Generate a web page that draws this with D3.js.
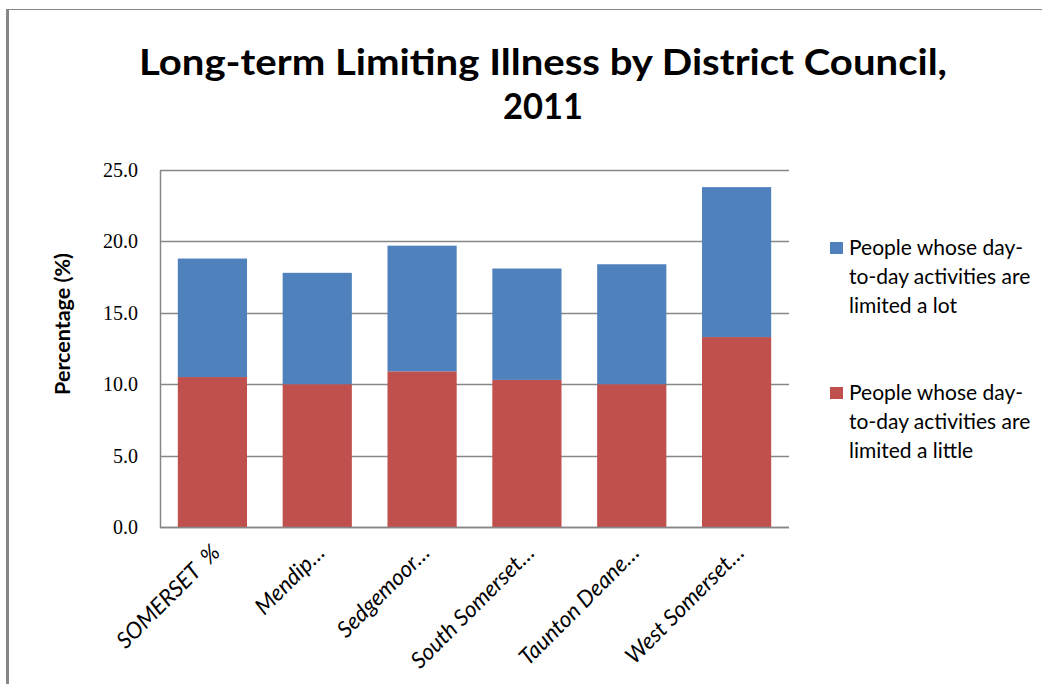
<!DOCTYPE html>
<html>
<head>
<meta charset="utf-8">
<script src="https://cdn.jsdelivr.net/npm/d3@7"></script>
<style>
  html, body { margin: 0; padding: 0; background: #fff; }
  svg { display: block; }
  text { font-family: Lato, "Open Sans", "Liberation Sans", sans-serif; fill: #000; white-space: pre; }
</style>
</head>
<body>
<svg id="chart" width="1042" height="684"></svg>
<script>
// District councils shown on the x axis
const categories = ["SOMERSET  %", "Mendip…", "Sedgemoor…", "South Somerset…", "Taunton Deane…", "West Somerset…"];
// Percentage of residents limited a little (bottom segment)
const limitedLittle = [10.5, 10.0, 10.9, 10.3, 10.0, 13.3];
// Percentage of residents limited a lot (stacked on top)
const limitedLot = [8.3, 7.8, 8.8, 7.8, 8.4, 10.5];
const yTicks = [0, 5, 10, 15, 20, 25];
const seriesNames = ["People whose day-to-day activities are limited a lot",
                     "People whose day-to-day activities are limited a little"];
const legendLines = [["People whose day-", "to-day activities are", "limited a lot"],
                     ["People whose day-", "to-day activities are", "limited a little"]];

const colors = { lot: "#4F81BD", little: "#C0504D" };
const gridColor = "#878787";

const svg = d3.select("#chart");

// chart frame (top and left edges)
svg.append("line").attr("x1", 6).attr("x2", 1042).attr("y1", 9.5).attr("y2", 9.5)
  .attr("stroke", gridColor).attr("stroke-width", 1);
svg.append("line").attr("x1", 7.5).attr("x2", 7.5).attr("y1", 9).attr("y2", 684)
  .attr("stroke", gridColor).attr("stroke-width", 3);

const plot = { left: 160, right: 789, top: 170, bottom: 527 };

const x = d3.scaleBand().domain(categories)
  .range([plot.left, plot.right]).paddingInner(0.34).paddingOuter(0.17);
const y = d3.scaleLinear().domain([0, 25]).range([plot.bottom, plot.top]);

// gridlines
svg.append("g").selectAll("line").data(yTicks).join("line")
  .attr("x1", plot.left).attr("x2", plot.right)
  .attr("y1", d => Math.round(y(d)) + 0.5).attr("y2", d => Math.round(y(d)) + 0.5)
  .attr("stroke", gridColor).attr("stroke-width", 1.5);

// stacked bars
const rows = categories.map((c, i) => ({ cat: c, little: limitedLittle[i], lot: limitedLot[i] }));
const stack = d3.stack().keys(["little", "lot"])(rows);
svg.append("g").selectAll("g").data(stack).join("g")
  .attr("fill", d => colors[d.key])
  .selectAll("rect").data(d => d).join("rect")
  .attr("x", d => x(d.data.cat))
  .attr("width", x.bandwidth())
  .attr("y", d => y(d[1]))
  .attr("height", d => y(d[0]) - y(d[1]));

// axes lines
svg.append("line").attr("x1", plot.left + 0.5).attr("x2", plot.left + 0.5)
  .attr("y1", plot.top).attr("y2", plot.bottom + 1)
  .attr("stroke", gridColor).attr("stroke-width", 1.5);
svg.append("line").attr("x1", plot.left).attr("x2", plot.right)
  .attr("y1", plot.bottom + 0.5).attr("y2", plot.bottom + 0.5)
  .attr("stroke", gridColor).attr("stroke-width", 1.5);

// y axis tick labels
const yAxis = d3.axisLeft(y).tickValues(yTicks).tickFormat(d3.format(".1f")).tickSize(0).tickPadding(22);
const yg = svg.append("g").attr("transform", `translate(${plot.left},0)`).call(yAxis);
yg.select(".domain").remove();
yg.selectAll("text").style("font-family", "'Liberation Serif', 'DejaVu Serif', serif")
  .style("font-size", "20px").attr("fill", "#000");

// x axis labels, rotated
const xAxis = d3.axisBottom(x).tickSize(0).tickPadding(0);
const xg = svg.append("g").attr("transform", `translate(0,${plot.bottom})`).call(xAxis);
xg.select(".domain").remove();
xg.selectAll("text")
  .style("font-size", "22.5px").style("font-style", "italic").style("white-space", "pre")
  .attr("fill", "#000")
  .attr("text-anchor", "end")
  .attr("dy", null).attr("y", 0)
  .attr("transform", "translate(9,27) rotate(-45)");

// y axis title
svg.append("text")
  .attr("transform", "translate(70,324) rotate(-90)")
  .attr("text-anchor", "middle")
  .style("font-size", "21.5px").style("font-weight", "bold")
  .text("Percentage (%)");

// chart title
const title = svg.append("text").attr("text-anchor", "middle")
  .style("font-size", "37px").style("font-weight", "bold");
title.append("tspan").attr("x", 543).attr("y", 75)
  .attr("textLength", 808).attr("lengthAdjust", "spacingAndGlyphs")
  .text("Long-term Limiting Illness by District Council,");
title.append("tspan").attr("x", 543).attr("y", 119)
  .attr("textLength", 80).attr("lengthAdjust", "spacingAndGlyphs")
  .text("2011");

// legend
const legendKeys = ["lot", "little"];
const legend = svg.append("g");
legendKeys.forEach((k, i) => {
  const top = 242 + i * 145;
  legend.append("rect").attr("x", 830).attr("y", top).attr("width", 13).attr("height", 12)
    .attr("fill", colors[k]);
  const t = legend.append("text").style("font-size", "21px")
    .attr("aria-label", seriesNames[i]);
  legendLines[i].forEach((line, j) => {
    t.append("tspan").attr("x", 849).attr("y", top + 13 + j * 29).text(line);
  });
});
</script>
</body>
</html>
